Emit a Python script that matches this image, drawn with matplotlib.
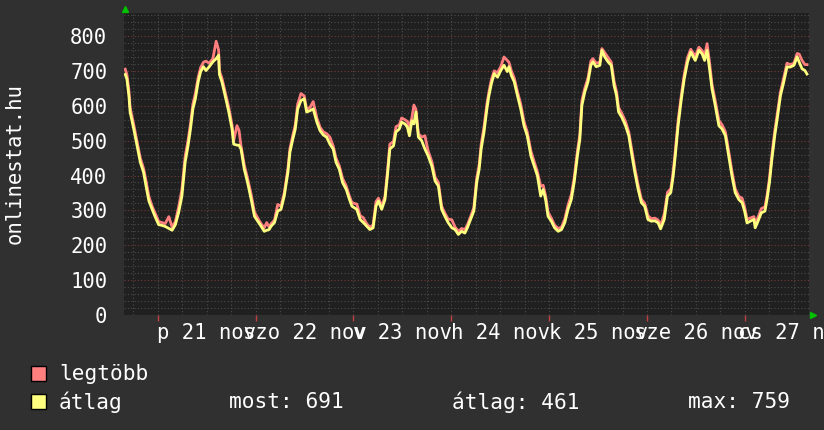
import numpy as np
import matplotlib
matplotlib.use("Agg")
import matplotlib.pyplot as plt
from matplotlib.patches import Rectangle

# hours since the left edge of the one-week window
hours = [0.3, 0.7, 1.2, 1.5, 2.4, 3.2, 4.0, 4.8, 5.4, 6.1, 6.9, 7.7, 8.5, 9.3, 10.1, 11.0,
         11.8, 12.6, 13.4, 14.2, 15.0, 15.7, 16.3, 16.9, 17.5, 18.2, 18.8, 19.5, 20.1, 20.9,
         21.8, 22.6, 23.2, 23.4, 24.0, 24.8, 25.7, 26.5, 26.9, 27.7, 28.2, 28.7, 29.5, 30.3,
         31.2, 32.0, 32.8, 33.6, 34.4, 35.0, 35.6, 36.1, 36.9, 37.7, 38.5, 39.3, 40.2, 40.7,
         41.4, 42.0, 42.6, 43.4, 44.2, 44.8, 45.6, 46.4, 47.3, 48.1, 48.9, 49.7, 50.5, 51.3,
         52.0, 52.8, 53.6, 54.5, 55.3, 55.9, 57.1, 57.9, 58.7, 59.5, 60.3, 61.1, 61.8, 62.4,
         63.2, 64.0, 64.6, 65.2, 66.1, 66.7, 67.5, 68.1, 68.9, 69.5, 70.0, 70.6, 71.1, 71.6,
         72.2, 73.0, 73.8, 74.6, 75.5, 76.3, 77.1, 77.9, 78.7, 79.5, 80.4, 81.2, 82.0, 82.8,
         83.6, 84.2, 85.0, 85.8, 86.5, 87.1, 87.6, 88.3, 89.0, 89.5, 90.1, 90.8, 91.6, 92.4,
         93.2, 94.0, 94.4, 95.0, 95.7, 96.5, 97.3, 98.1, 98.9, 99.8, 100.6, 101.4, 102.2, 102.8,
         103.4, 104.0, 104.8, 105.6, 106.5, 107.3, 108.1, 108.9, 109.7, 110.4, 111.2, 111.8,
         112.3, 113.0, 113.8, 114.5, 115.0, 115.8, 116.7, 117.2, 117.9, 118.7, 119.5, 120.2,
         120.8, 121.3, 122.1, 123.0, 123.8, 124.6, 125.3, 126.1, 126.9, 127.7, 128.5, 129.3,
         130.2, 131.0, 131.6, 132.5, 133.3, 134.1, 134.7, 135.2, 135.9, 136.7, 137.4, 138.2,
         139.0, 140.1, 141.0, 141.8, 142.4, 143.0, 143.6, 144.2, 145.0, 145.9, 146.7, 147.5,
         148.3, 149.1, 149.9, 150.8, 151.6, 152.2, 152.8, 153.6, 154.5, 154.8, 155.5, 156.3,
         157.2, 157.7, 158.3, 158.9, 159.6, 160.2, 161.0, 161.8, 162.6, 163.4, 164.3, 165.1,
         165.6, 166.3, 167.0, 167.5]

atlag = [690, 677, 629, 582, 533, 485, 438, 409, 370, 327, 303, 280, 259, 257, 254, 248,
         243, 259, 294, 341, 438, 485, 533, 591, 620, 669, 698, 712, 701, 712,
         726, 735, 745, 690, 669, 629, 582, 533, 490, 487, 487, 476, 418, 380,
         331, 283, 269, 255, 240, 243, 245, 255, 265, 298, 303, 341, 409, 467,
         504, 533, 591, 615, 620, 582, 586, 591, 553, 528, 516, 510, 490, 476,
         438, 418, 380, 360, 331, 312, 303, 274, 265, 255, 245, 250, 312, 327,
         303, 331, 399, 476, 485, 525, 533, 553, 548, 539, 514, 557, 548, 582,
         510, 500, 476, 456, 427, 384, 370, 303, 283, 265, 250, 245, 231, 240,
         235, 250, 274, 298, 380, 418, 476, 525, 591, 629, 663, 692, 682, 701,
         716, 698, 712, 687, 669, 629, 591, 543, 514, 456, 427, 399, 341, 360,
         331, 283, 269, 250, 240, 245, 265, 303, 331, 380, 456, 504,
         601, 639, 669, 716, 726, 712, 716, 759, 740, 726, 716, 658,
         629, 582, 567, 543, 514, 456, 408, 360, 322, 312, 274, 269,
         270, 264, 247, 274, 341, 351, 399, 456, 543, 620, 677, 725,
         754, 730, 759, 749, 730, 759, 706, 649, 601, 543, 533, 514,
         456, 399, 351, 331, 322, 298, 264, 269, 274, 250, 269, 293,
         298, 331, 380, 447, 514, 562, 629, 668, 711, 711, 716, 740,
         725, 706, 701, 691]

legtobb = [705, 690, 645, 595, 545, 498, 450, 420, 385, 340, 312, 290, 268, 265, 262, 282,
           252, 268, 310, 360, 455, 500, 548, 605, 635, 682, 710, 725, 728, 722,
           735, 785, 760, 700, 680, 640, 595, 545, 500, 543, 530, 485, 430, 392,
           345, 295, 278, 262, 250, 265, 252, 262, 272, 317, 312, 350, 420, 478,
           515, 545, 605, 635, 628, 590, 595, 612, 565, 538, 525, 520, 510, 485,
           450, 428, 392, 370, 340, 322, 318, 285, 279, 262, 252, 258, 325, 335,
           312, 340, 410, 490, 498, 540, 545, 565, 560, 555, 540, 565, 602, 590,
           520, 510, 514, 470, 440, 395, 380, 312, 292, 275, 273, 252, 240, 248,
           245, 258, 282, 308, 392, 430, 490, 540, 605, 640, 675, 700, 695, 712,
           740, 730, 725, 700, 680, 640, 605, 555, 525, 470, 440, 410, 369, 372,
           342, 295, 278, 258, 248, 252, 275, 315, 345, 392, 470, 518,
           615, 650, 680, 728, 735, 722, 725, 764, 752, 738, 725, 670,
           640, 595, 578, 555, 525, 470, 420, 372, 332, 320, 285, 276,
           278, 272, 256, 290, 352, 362, 412, 470, 558, 632, 690, 738,
           762, 742, 768, 758, 742, 778, 725, 662, 615, 558, 545, 525,
           470, 412, 362, 340, 335, 310, 275, 278, 282, 262, 280, 305,
           310, 342, 392, 460, 528, 575, 640, 680, 722, 718, 722, 750,
           748, 730, 718, 718]

first_midnight = 8.27
day_labels = ["p 21 nov", "szo 22 nov", "v 23 nov", "h 24 nov",
              "k 25 nov", "sze 26 nov", "cs 27 nov"]
y_ticks = [0, 100, 200, 300, 400, 500, 600, 700, 800]
stat_most, stat_atlag, stat_max = 691, 461, 759

BG = "#303030"
PLOT_BG = "#202020"
RED = "#ff7f7f"
YELLOW = "#ffff7f"
FONT = "DejaVu Sans Mono"

fig = plt.figure(figsize=(8.24, 4.30), dpi=100, facecolor=BG)
ax = fig.add_axes([124 / 824, 115 / 430, 685 / 824, 302 / 430])
ax.set_facecolor(PLOT_BG)
ax.set_xlim(0, 168)
ax.set_ylim(0, 866)

# grid
for v in np.arange(20, 866, 20):
    if v % 100:
        ax.axhline(v, color="#4c4c4c", lw=0.8, ls=(0, (1, 2)), zorder=1)
for v in y_ticks:
    ax.axhline(v, color="#7a3838", lw=0.8, ls=(0, (1, 2)), zorder=1)
for t in np.arange(first_midnight - 6, 168, 6):
    ax.axvline(t, color="#4c4c4c", lw=0.8, ls=(0, (1, 2)), zorder=1)

ax.plot(hours, legtobb, color=RED, lw=2, zorder=3)
ax.plot(hours, atlag, color=YELLOW, lw=2, zorder=4)

for s in ax.spines.values():
    s.set_visible(False)

midnights = first_midnight + 24 * np.arange(7)
ax.set_xticks(midnights)
ax.set_xticklabels([])
ax.tick_params(axis="x", length=4, width=1, color="#c04040", direction="out")
ax.set_yticks(y_ticks)
ax.set_yticklabels([str(v) for v in y_ticks], color="white", fontsize=14.8, family=FONT)
ax.tick_params(axis="y", length=0, pad=12)

# day labels sit at noon and overlap like the original
for i, lab in enumerate(day_labels):
    ax.annotate(lab, xy=(midnights[i] + 12, 0), xycoords=("data", "axes fraction"),
                xytext=(0, -13), textcoords="offset points", ha="center", va="center",
                color="white", fontsize=14.8, family=FONT, annotation_clip=False)

# little green arrows at the axis ends
ax.plot([0.0015], [1.012], marker="^", ms=5, color="#00c000", transform=ax.transAxes, clip_on=False)
ax.plot([1.006], [0.0], marker=">", ms=5, color="#00c000", transform=ax.transAxes, clip_on=False)

fig.text(15 / 824, 0.62, "onlinestat.hu", rotation=90, ha="center", va="center",
         color="white", fontsize=14.8, family=FONT)

# legend
fig.patches.append(Rectangle((31 / 824, 49 / 430), 15 / 824, 15 / 430, transform=fig.transFigure,
                             facecolor=RED, edgecolor="black", lw=1))
fig.patches.append(Rectangle((31 / 824, 21 / 430), 15 / 824, 15 / 430, transform=fig.transFigure,
                             facecolor=YELLOW, edgecolor="black", lw=1))
lg = dict(color="white", fontsize=15.2, family=FONT, va="center")
fig.text(59 / 824, 56 / 430, "legtöbb", **lg)
fig.text(59 / 824, 28 / 430, "átlag", **lg)
fig.text(229 / 824, 28 / 430, f"most: {stat_most}", **lg)
fig.text(452 / 824, 28 / 430, f"átlag: {stat_atlag}", **lg)
fig.text(688 / 824, 28 / 430, f"max: {stat_max}", **lg)

fig.savefig("out.png", dpi=100, facecolor=BG)
